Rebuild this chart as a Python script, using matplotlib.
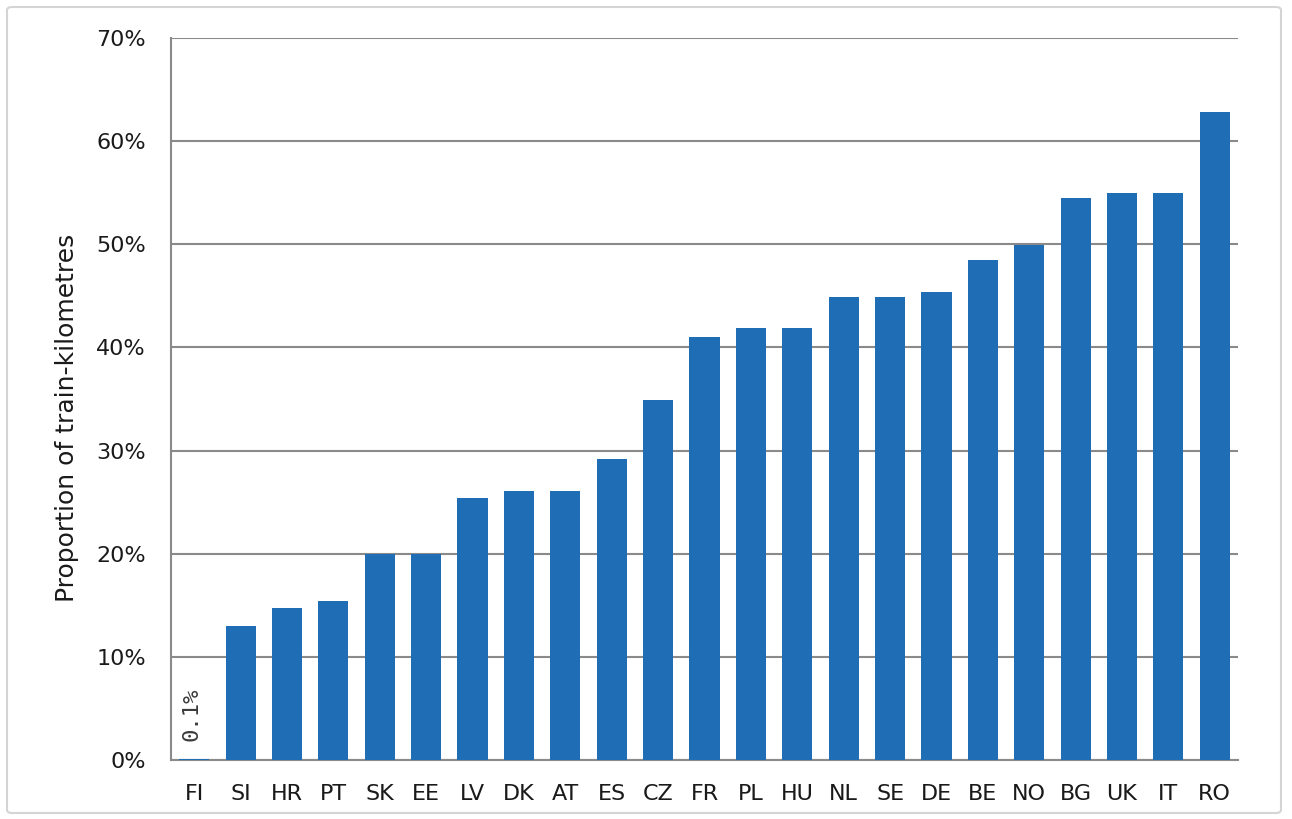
import matplotlib
matplotlib.use("Agg")
import matplotlib.pyplot as plt
from matplotlib.patches import FancyBboxPatch
from matplotlib.ticker import FuncFormatter, MultipleLocator

countries = ["FI", "SI", "HR", "PT", "SK", "EE", "LV", "DK", "AT", "ES", "CZ", "FR",
             "PL", "HU", "NL", "SE", "DE", "BE", "NO", "BG", "UK", "IT", "RO"]
share = [0.1, 13.0, 14.7, 15.4, 20.0, 20.0, 25.4, 26.1, 26.1, 29.2, 34.9, 41.0,
         41.9, 41.9, 44.9, 44.9, 45.4, 48.5, 49.9, 54.5, 55.0, 55.0, 62.8]
annotated = {"FI": "0.1%"}

W, H = 1292, 819
fig = plt.figure(figsize=(W / 100, H / 100), dpi=100)
fig.patch.set_facecolor("white")

# outer border
border = FancyBboxPatch((7 / W, 6 / H), (1281 - 7) / W, (812 - 6) / H,
                        boxstyle="round,pad=0,rounding_size=0.004",
                        transform=fig.transFigure, facecolor="none",
                        edgecolor="#d4d4d4", linewidth=1.5)
fig.patches.append(border)

left, right, bottom, top = 171, 1238, 760, 38
ax = fig.add_axes([left / W, 1 - bottom / H, (right - left) / W, (bottom - top) / H])

x = list(range(len(countries)))
ax.bar(x, share, width=0.65, color="#1e6db5", zorder=3)

ax.set_xlim(-0.5, len(countries) - 0.5)
ax.set_ylim(0, 70)
ax.yaxis.set_major_locator(MultipleLocator(10))
ax.yaxis.set_major_formatter(FuncFormatter(lambda v, p: f"{v:.0f}%"))
ax.set_xticks(x)
ax.set_xticklabels(countries)

ax.grid(axis="y", color="#8a8a8a", linewidth=1.5, zorder=1)
ax.set_axisbelow(True)
for s in ["top", "right"]:
    ax.spines[s].set_visible(False)
for s in ["left", "bottom"]:
    ax.spines[s].set_color("#8a8a8a")
    ax.spines[s].set_linewidth(1.5)

ax.tick_params(axis="both", length=0, labelsize=16, colors="#1a1a1a")
ax.tick_params(axis="y", pad=18)
ax.tick_params(axis="x", pad=17)

for i, c in enumerate(countries):
    if c in annotated:
        ax.annotate(annotated[c], xy=(i, share[i]), xytext=(-2, 13),
                    textcoords="offset points", rotation=90, ha="center", va="bottom",
                    fontsize=16, family="DejaVu Sans Mono", color="#3a3a3a")

fig.text(67 / W, 1 - 418 / H, "Proportion of train-kilometres", rotation=90,
         ha="center", va="center", fontsize=18, color="#1a1a1a")

fig.savefig("out.png", dpi=100, facecolor="white")
